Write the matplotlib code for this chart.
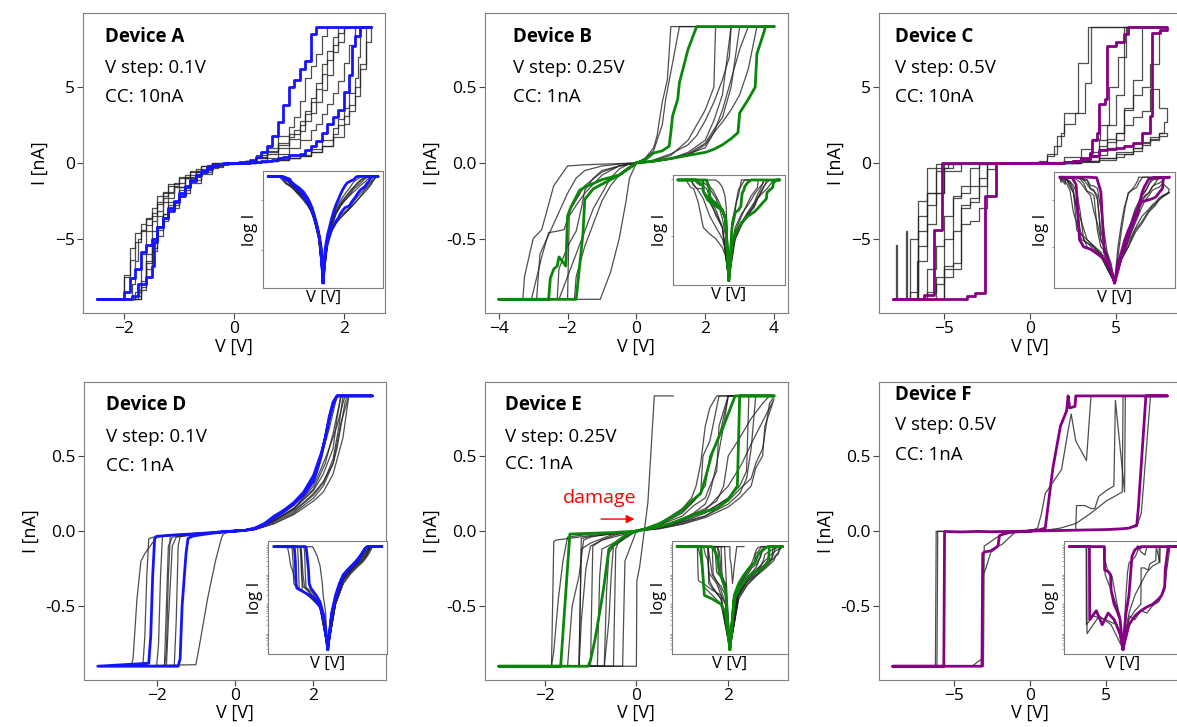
import numpy as np
import matplotlib
matplotlib.use('Agg')
import matplotlib.pyplot as plt
from matplotlib.ticker import MultipleLocator, FormatStrFormatter

plt.rcParams['font.family'] = ['Open Sans', 'DejaVu Sans']

# Each sweep: 0 -> +Vmax -> 0 -> -Vmax -> 0  (V in volts, I in nA)

# ---------------- Device A : V step 0.1V, CC 10nA ----------------
A_blue_V = [0, 0.1, 0.2, 0.3, 0.4, 0.5, 0.6, 0.7, 0.8, 0.9, 1.0, 1.1, 1.2, 1.3, 1.4, 1.5, 1.6, 1.7, 1.8, 1.9, 2.0, 2.1, 2.15, 2.2, 2.3, 2.5,
            2.3, 2.0, 1.7, 1.6, 1.5, 1.4, 1.3, 1.2, 1.1, 1.0, 0.9, 0.8, 0.7, 0.6, 0.5, 0.4, 0.3, 0.2, 0.1, 0,
            -0.1, -0.2, -0.3, -0.4, -0.5, -0.6, -0.7, -0.8, -0.9, -1.0, -1.1, -1.2, -1.3, -1.4, -1.5, -1.6, -1.7, -1.8, -1.9, -2.0, -2.5,
            -2.2, -1.9, -1.85, -1.75, -1.6, -1.5, -1.45, -1.4, -1.3, -1.2, -1.1, -1.0, -0.9, -0.8, -0.7, -0.6, -0.5, -0.4, -0.3, -0.2, -0.1, 0]
A_blue_I = [0.0005, 0.008, 0.02, 0.04, 0.07, 0.1, 0.15, 0.2, 0.3, 0.4, 0.5, 0.55, 0.6, 0.85, 1.1, 1.45, 2.0, 2.6, 3.0, 3.5, 4.7, 5.8, 7.7, 8.4, 9.0, 9.0,
            9.0, 9.0, 9.0, 9.0, 8.5, 6.7, 6.2, 5.5, 5.0, 3.8, 2.7, 1.8, 1.1, 0.7, 0.4, 0.2, 0.09, 0.04, 0.012, 0.0005,
            -0.015, -0.05, -0.12, -0.25, -0.5, -0.8, -1.2, -1.6, -2.2, -2.6, -3.2, -3.6, -4.2, -5.0, -5.4, -5.9, -7.0, -7.6, -8.5, -9.0, -9.0,
            -9.0, -9.0, -8.8, -8.0, -7.5, -6.8, -5.2, -4.2, -3.6, -3.0, -2.5, -2.0, -1.5, -1.1, -0.8, -0.6, -0.4, -0.2, -0.1, -0.04, -0.012, -0.0005]

A_k1_V = [0, 0.2, 0.4, 0.6, 0.8, 1.0, 1.2, 1.4, 1.6, 1.8, 1.9, 2.0, 2.1, 2.2, 2.25, 2.3, 2.5,
          2.0, 1.9, 1.8, 1.7, 1.6, 1.5, 1.4, 1.3, 1.2, 1.1, 1.0, 0.8, 0.6, 0.4, 0.2, 0,
          -0.2, -0.4, -0.5, -0.7, -0.9, -1.1, -1.3, -1.4, -1.5, -1.6, -1.7, -1.75, -1.8, -1.85, -2.5,
          -1.75, -1.7, -1.6, -1.5, -1.4, -1.3, -1.2, -1.1, -0.9, -0.7, -0.5, -0.3, -0.1, 0]
A_k1_I = [0.0005, 0.02, 0.08, 0.15, 0.25, 0.35, 0.5, 0.9, 1.5, 2.3, 2.9, 3.6, 4.6, 5.6, 7.0, 9.0, 9.0,
          9.0, 8.3, 7.4, 6.5, 5.3, 4.3, 3.4, 2.8, 2.2, 1.7, 1.3, 0.8, 0.4, 0.12, 0.03, 0.0005,
          -0.04, -0.2, -0.5, -1.0, -1.6, -2.3, -3.2, -3.8, -4.1, -4.5, -5.0, -6.5, -8.0, -9.0, -9.0,
          -9.0, -8.4, -6.0, -4.5, -3.5, -2.6, -2.0, -1.6, -1.0, -0.6, -0.3, -0.1, -0.01, -0.0005]

A_k2_V = [0, 0.2, 0.4, 0.6, 0.8, 1.0, 1.2, 1.4, 1.6, 1.8, 2.0, 2.1, 2.2, 2.3, 2.4, 2.5,
          2.2, 2.1, 2.0, 1.9, 1.8, 1.7, 1.6, 1.5, 1.4, 1.3, 1.2, 1.0, 0.8, 0.6, 0.4, 0.2, 0,
          -0.2, -0.4, -0.5, -0.7, -0.9, -1.1, -1.3, -1.4, -1.5, -1.6, -1.7, -1.8, -1.9, -2.0, -2.5,
          -1.9, -1.8, -1.7, -1.6, -1.5, -1.4, -1.3, -1.2, -1.0, -0.8, -0.6, -0.4, -0.2, 0]
A_k2_I = [0.0005, 0.02, 0.07, 0.13, 0.2, 0.3, 0.45, 0.7, 1.1, 1.7, 2.6, 3.4, 4.4, 6.5, 9.0, 9.0,
          9.0, 8.9, 8.0, 7.3, 5.8, 4.8, 4.0, 3.3, 2.8, 2.1, 1.6, 1.0, 0.6, 0.3, 0.1, 0.02, 0.0005,
          -0.03, -0.15, -0.4, -0.8, -1.3, -1.9, -2.7, -3.3, -3.7, -4.0, -4.6, -5.6, -7.5, -9.0, -9.0,
          -9.0, -8.5, -7.8, -6.6, -5.6, -4.4, -3.4, -2.8, -1.8, -1.1, -0.6, -0.2, -0.04, -0.0005]

A_k3_V = [0, 0.2, 0.4, 0.6, 0.8, 1.0, 1.2, 1.4, 1.5, 1.6, 1.7, 1.8, 1.9, 2.0, 2.1, 2.2, 2.5,
          1.8, 1.7, 1.6, 1.5, 1.4, 1.3, 1.2, 1.1, 1.0, 0.8, 0.6, 0.4, 0.2, 0,
          -0.2, -0.4, -0.6, -0.8, -1.0, -1.2, -1.3, -1.4, -1.5, -1.6, -1.7, -1.75, -2.5,
          -1.8, -1.7, -1.6, -1.5, -1.4, -1.3, -1.2, -1.0, -0.8, -0.6, -0.4, -0.2, 0]
A_k3_I = [0.0005, 0.02, 0.09, 0.3, 0.6, 1.0, 1.5, 2.2, 2.6, 3.2, 3.9, 4.6, 5.4, 6.6, 7.8, 9.0, 9.0,
          9.0, 8.4, 7.2, 6.4, 5.6, 4.1, 3.0, 2.4, 1.8, 1.0, 0.5, 0.15, 0.03, 0.0005,
          -0.04, -0.2, -0.6, -1.0, -1.5, -2.0, -2.6, -3.5, -4.5, -6.0, -8.4, -9.0, -9.0,
          -9.0, -8.2, -7.0, -5.8, -4.8, -3.8, -3.0, -2.0, -1.3, -0.7, -0.25, -0.05, -0.0005]

A_k4_V = [0, 0.2, 0.4, 0.6, 0.8, 1.0, 1.2, 1.4, 1.6, 1.8, 1.9, 2.0, 2.1, 2.2, 2.3, 2.4, 2.5,
          2.1, 2.0, 1.9, 1.8, 1.7, 1.6, 1.5, 1.4, 1.3, 1.2, 1.0, 0.8, 0.6, 0.4, 0.2, 0,
          -0.2, -0.4, -0.6, -0.8, -1.0, -1.2, -1.4, -1.5, -1.6, -1.7, -1.8, -1.9, -2.0, -2.5,
          -1.9, -1.8, -1.7, -1.6, -1.5, -1.4, -1.3, -1.2, -1.0, -0.8, -0.6, -0.4, -0.2, 0]
A_k4_I = [0.0005, 0.015, 0.06, 0.12, 0.2, 0.3, 0.45, 0.7, 1.1, 1.9, 2.5, 3.1, 3.8, 5.0, 6.2, 8.0, 9.0,
          9.0, 8.6, 7.8, 6.8, 5.9, 4.9, 4.0, 3.2, 2.5, 1.9, 1.2, 0.7, 0.35, 0.12, 0.025, 0.0005,
          -0.03, -0.18, -0.5, -0.9, -1.4, -2.2, -3.0, -3.6, -4.4, -5.2, -6.4, -7.4, -9.0, -9.0,
          -9.0, -8.8, -8.0, -6.5, -5.2, -4.2, -3.4, -2.6, -1.6, -0.9, -0.45, -0.15, -0.03, -0.0005]

# ---------------- Device B : V step 0.25V, CC 1nA ----------------
B_green_V = [0, 0.25, 0.5, 1.0, 1.5, 2.0, 2.25, 2.5, 2.75, 2.95, 3.0, 3.25, 3.45, 3.5, 3.7, 3.75, 4.0,
             1.75, 1.5, 1.25, 1.2, 1.05, 1.0, 0.95, 0.75, 0.5, 0.25, 0,
             -0.25, -0.5, -1.0, -1.5, -1.65, -1.9, -2.0, -2.05, -2.25, -2.3, -2.4, -2.5, -2.55, -4.0,
             -1.75, -1.65, -1.55, -1.5, -1.25, -1.0, -0.75, -0.5, -0.25, 0]
B_green_I = [0.0003, 0.005, 0.012, 0.03, 0.05, 0.07, 0.09, 0.12, 0.16, 0.2, 0.33, 0.42, 0.5, 0.72, 0.86, 0.9, 0.9,
             0.9, 0.75, 0.53, 0.42, 0.31, 0.2, 0.11, 0.08, 0.066, 0.02, 0.0003,
             -0.04, -0.08, -0.11, -0.16, -0.18, -0.29, -0.35, -0.68, -0.62, -0.68, -0.7, -0.76, -0.9, -0.9,
             -0.9, -0.68, -0.46, -0.24, -0.17, -0.14, -0.11, -0.08, -0.04, -0.0003]

B_k1_V = [0, 0.25, 0.5, 1.0, 1.5, 2.0, 2.25, 2.5, 2.75, 3.0, 3.25, 4.0,
          1.25, 1.0, 0.85, 0.75, 0.6, 0.5, 0.25, 0,
          -0.25, -0.5, -1.0, -1.5, -2.0, -2.4, -2.75, -3.0, -3.25, -3.3, -4.0,
          -3.05, -2.75, -2.55, -2.3, -2.1, -1.9, -1.5, -1.0, -0.5, 0]
B_k1_I = [0.0003, 0.004, 0.01, 0.03, 0.06, 0.1, 0.2, 0.35, 0.55, 0.75, 0.9, 0.9,
          0.9, 0.6, 0.42, 0.25, 0.15, 0.08, 0.03, 0.0003,
          -0.002, -0.004, -0.008, -0.012, -0.02, -0.15, -0.44, -0.5, -0.75, -0.9, -0.9,
          -0.9, -0.62, -0.46, -0.45, -0.44, -0.3, -0.15, -0.06, -0.02, -0.0003]

B_k2_V = [0, 0.25, 0.5, 1.0, 1.5, 2.0, 2.25, 2.5, 2.75, 3.0, 3.25, 3.5, 4.0,
          2.75, 2.7, 2.5, 2.25, 2.0, 1.75, 1.5, 1.0, 0.5, 0.25, 0,
          -0.25, -0.5, -0.75, -1.0, -1.25, -1.5, -1.75, -2.0, -2.25, -4.0,
          -1.8, -1.75, -1.5, -1.25, -1.0, -0.75, -0.5, -0.25, 0]
B_k2_I = [0.0003, 0.003, 0.008, 0.025, 0.05, 0.12, 0.2, 0.27, 0.35, 0.45, 0.62, 0.9, 0.9,
          0.9, 0.7, 0.55, 0.4, 0.28, 0.18, 0.12, 0.06, 0.02, 0.005, 0.0003,
          -0.01, -0.04, -0.1, -0.2, -0.3, -0.45, -0.6, -0.75, -0.9, -0.9,
          -0.9, -0.75, -0.55, -0.4, -0.25, -0.15, -0.08, -0.03, -0.0003]

B_k3_V = [0, 0.5, 1.0, 1.5, 2.0, 2.25, 2.5, 2.75, 4.0,
          2.3, 2.25, 2.0, 1.75, 1.5, 1.0, 0.5, 0,
          -0.5, -1.0, -1.25, -1.5, -1.6, -1.75, -2.0, -2.25, -2.3, -4.0,
          -1.05, -0.75, -0.5, -0.3, -0.2, 0]
B_k3_I = [0.0003, 0.01, 0.03, 0.07, 0.15, 0.28, 0.45, 0.9, 0.9,
          0.9, 0.5, 0.35, 0.25, 0.15, 0.05, 0.015, 0.0003,
          -0.02, -0.05, -0.1, -0.18, -0.3, -0.45, -0.55, -0.7, -0.9, -0.9,
          -0.9, -0.72, -0.5, -0.25, -0.1, -0.0003]

B_k4_V = [0, 0.5, 1.0, 1.5, 2.0, 2.25, 2.5, 2.75, 3.0, 4.0,
          1.0, 0.9, 0.75, 0.6, 0.5, 0.25, 0,
          -0.25, -0.5, -1.0, -1.5, -1.75, -2.0, -2.5, -2.8, -2.9, -4.0,
          -2.0, -1.95, -1.75, -1.5, -1.0, -0.5, 0]
B_k4_I = [0.0003, 0.008, 0.025, 0.06, 0.13, 0.22, 0.3, 0.5, 0.9, 0.9,
          0.9, 0.55, 0.4, 0.18, 0.1, 0.03, 0.0003,
          -0.003, -0.008, -0.02, -0.05, -0.1, -0.2, -0.45, -0.6, -0.9, -0.9,
          -0.9, -0.35, -0.28, -0.2, -0.08, -0.02, -0.0003]

# ---------------- Device C : V step 0.5V, CC 10nA ----------------
C_purple_V = [0, 0.5, 1, 1.5, 2, 2.5, 3, 3.5, 4, 4.5, 5, 5.5, 6, 6.5, 7.0, 7.1, 7.6, 8,
              8, 5.7, 5.5, 5.0, 4.5, 4.4, 4.0, 3.9, 3.6, 3.5, 3.0, 2.5, 2.0, 1.5, 1.0, 0.5, 0,
              -0.5, -1, -1.5, -2.0, -2.6, -3.2, -3.65, -8,
              -6.2, -5.6, -5.1, -4.5, -3.5, -2.5, -1.5, -0.5, 0]
C_purple_I = [0.0003, 0.002, 0.006, 0.02, 0.05, 0.1, 0.25, 0.45, 0.85, 0.9, 1.0, 1.1, 1.3, 2.0, 3.1, 8.6, 8.8, 9.0,
              9.0, 8.5, 8.0, 7.7, 4.2, 3.9, 2.0, 1.5, 0.65, 0.35, 0.15, 0.07, 0.03, 0.01, 0.004, 0.001, 0.0003,
              -0.001, -0.003, -0.006, -2.2, -8.6, -8.8, -9.0, -9.0,
              -8.7, -4.4, -0.02, -0.01, -0.008, -0.005, -0.003, -0.001, -0.0003]

C_k1_V = [0, 0.5, 1, 1.5, 2, 2.5, 3, 3.5, 4, 4.5, 5, 5.5, 6, 6.5, 7, 7.5, 8,
          4.1, 3.55, 3.2, 2.6, 2.0, 1.8, 1.4, 1.0, 0.5, 0,
          -0.5, -1, -2, -2.5, -3, -3.5, -4, -4.5, -5, -5.5, -6, -8,
          -6.6, -6.0, -5.5, -5.0, -4.5, -3.0, -1.5, 0]
C_k1_I = [0.0003, 0.002, 0.005, 0.01, 0.03, 0.08, 0.2, 0.5, 1.1, 1.6, 2.0, 3.6, 4.5, 5.0, 6.5, 8.8, 9.0,
          9.0, 5.3, 3.3, 2.6, 2.0, 1.1, 0.44, 0.1, 0.01, 0.0003,
          -0.002, -0.005, -0.01, -0.05, -1.5, -2.0, -2.3, -5.0, -7.5, -8.5, -9.0, -9.0,
          -6.5, -4.0, -2.0, -0.3, -0.02, -0.008, -0.004, -0.0003]

C_k2_V = [0, 1, 2, 3, 4, 5, 5.5, 6, 6.5, 7, 7.5, 8,
          7.5, 7.0, 6.5, 6.0, 5.0, 4.0, 3.0, 2.0, 1.0, 0,
          -1, -2, -2.5, -3, -3.5, -4, -4.5, -5, -8,
          -7.8, -7.75, -7.0, -6.5, -6.0, -5.0, -4.0, -2.0, 0]
C_k2_I = [0.0003, 0.003, 0.015, 0.06, 0.2, 0.4, 0.6, 0.8, 1.2, 1.5, 1.8, 2.0,
          1.6, 1.3, 1.0, 0.7, 0.35, 0.12, 0.05, 0.01, 0.003, 0.0003,
          -0.004, -0.4, -3.0, -3.8, -4.0, -7.0, -7.5, -9.0, -9.0,
          -5.4, -9.0, -8.5, -4.5, -2.0, -0.05, -0.01, -0.004, -0.0003]

C_k3_V = [0, 1, 2, 3, 4, 4.5, 5, 5.5, 6, 6.5, 7, 7.5, 8,
          7.8, 7.5, 7.0, 6.5, 6.0, 5.0, 4.0, 3.0, 2.0, 1.0, 0,
          -1, -1.5, -2, -2.5, -3, -3.5, -4, -4.5, -5, -8,
          -7.2, -7.15, -6.5, -6.0, -5.5, -4.0, -2.0, 0]
C_k3_I = [0.0003, 0.004, 0.02, 0.1, 0.5, 1.0, 1.5, 2.5, 3.0, 3.4, 4.9, 3.6, 2.7,
          2.0, 1.7, 1.4, 1.0, 0.6, 0.3, 0.1, 0.04, 0.01, 0.003, 0.0003,
          -0.003, -0.01, -0.02, -1.5, -2.3, -2.8, -4.5, -6.8, -9.0, -9.0,
          -4.5, -9.0, -3.5, -2.0, -0.5, -0.02, -0.005, -0.0003]

C_k4_V = [0, 1, 2, 3, 3.5, 4, 4.5, 5, 5.5, 6, 6.5, 8,
          5.6, 5.1, 4.6, 4.1, 3.6, 3.0, 2.0, 1.0, 0,
          -1, -2, -2.5, -3, -3.5, -4, -4.5, -5, -5.5, -8,
          -7.0, -6.5, -6.0, -4.8, -3.0, -2.0, 0]
C_k4_I = [0.0003, 0.003, 0.02, 0.15, 0.4, 0.9, 1.4, 2.0, 3.5, 5.5, 9.0, 9.0,
          7.0, 5.0, 2.5, 1.6, 0.9, 0.4, 0.05, 0.004, 0.0003,
          -0.003, -0.05, -1.0, -2.6, -3.0, -6.6, -7.0, -8.0, -9.0, -9.0,
          -5.0, -2.5, -0.3, -0.02, -0.01, -0.004, -0.0003]

C_k5_V = [0, 1, 2, 3, 3.5, 4, 4.5, 5, 5.5, 8,
          3.5, 3.4, 2.8, 2.0, 1.6, 1.0, 0,
          -1, -2, -2.5, -3, -3.5, -4, -4.5, -5, -5.5, -6, -8,
          -6.5, -6.0, -5.5, -4.0, -2.0, 0]
C_k5_I = [0.0003, 0.004, 0.04, 0.3, 0.7, 1.5, 2.5, 4.5, 9.0, 9.0,
          9.0, 6.6, 3.3, 1.8, 0.6, 0.05, 0.0003,
          -0.004, -0.02, -0.1, -0.3, -1.5, -2.2, -3.5, -5.5, -7.0, -9.0, -9.0,
          -5.5, -2.8, -0.05, -0.02, -0.006, -0.0003]

# ---------------- Device D : V step 0.1V, CC 1nA ----------------
D_blue_V = [0, 0.25, 0.5, 0.75, 1.0, 1.25, 1.5, 1.75, 2.0, 2.1, 2.2, 2.3, 2.4, 2.5, 2.6, 3.5,
            2.6, 2.5, 2.4, 2.3, 2.2, 2.0, 1.75, 1.5, 1.25, 1.0, 0.75, 0.5, 0.25, 0,
            -0.25, -0.5, -0.75, -1.0, -1.5, -2.0, -2.05, -2.1, -2.15, -2.2, -3.5,
            -1.45, -1.4, -1.35, -1.25, -1.2, -1.1, -1.0, -0.75, -0.5, -0.25, 0]
D_blue_I = [0.0003, 0.004, 0.015, 0.04, 0.09, 0.13, 0.18, 0.24, 0.33, 0.41, 0.5, 0.62, 0.76, 0.86, 0.9, 0.9,
            0.9, 0.84, 0.74, 0.62, 0.52, 0.37, 0.26, 0.19, 0.14, 0.1, 0.05, 0.02, 0.005, 0.0003,
            -0.003, -0.008, -0.013, -0.018, -0.025, -0.035, -0.05, -0.3, -0.7, -0.88, -0.9,
            -0.9, -0.85, -0.5, -0.15, -0.05, -0.035, -0.03, -0.02, -0.012, -0.004, -0.0003]

D_k1_V = [0, 0.5, 1.0, 1.5, 1.75, 2.0, 2.25, 2.5, 2.6, 2.7, 2.8, 2.85, 3.5,
          2.8, 2.6, 2.4, 2.2, 2.0, 1.5, 1.0, 0.5, 0,
          -0.5, -1.0, -1.5, -2.0, -2.3, -2.4, -2.5, -2.6, -2.65, -3.5,
          -1.75, -1.7, -1.6, -1.5, -1.0, -0.5, 0]
D_k1_I = [0.0003, 0.012, 0.07, 0.14, 0.19, 0.25, 0.33, 0.45, 0.55, 0.7, 0.85, 0.9, 0.9,
          0.9, 0.7, 0.55, 0.42, 0.3, 0.15, 0.07, 0.012, 0.0003,
          -0.008, -0.015, -0.025, -0.04, -0.15, -0.2, -0.45, -0.85, -0.9, -0.9,
          -0.9, -0.6, -0.1, -0.04, -0.025, -0.01, -0.0003]

D_k2_V = [0, 0.5, 1.0, 1.5, 2.0, 2.25, 2.5, 2.65, 2.75, 3.5,
          2.7, 2.5, 2.3, 2.0, 1.5, 1.0, 0.5, 0,
          -0.5, -1.0, -1.5, -2.0, -2.2, -2.25, -2.3, -2.35, -3.5,
          -1.8, -1.75, -1.7, -1.6, -1.0, -0.5, 0]
D_k2_I = [0.0003, 0.01, 0.06, 0.13, 0.24, 0.32, 0.48, 0.7, 0.9, 0.9,
          0.9, 0.65, 0.45, 0.28, 0.15, 0.07, 0.012, 0.0003,
          -0.008, -0.015, -0.025, -0.035, -0.05, -0.3, -0.7, -0.9, -0.9,
          -0.9, -0.5, -0.1, -0.04, -0.02, -0.01, -0.0003]

D_k3_V = [0, 0.5, 1.0, 1.5, 2.0, 2.25, 2.5, 2.75, 2.9, 3.5,
          2.9, 2.7, 2.5, 2.25, 2.0, 1.5, 1.0, 0.5, 0,
          -0.5, -1.0, -1.5, -1.85, -1.9, -1.95, -2.0, -3.5,
          -1.0, -0.9, -0.7, -0.5, -0.35, -0.3, -0.15, 0]
D_k3_I = [0.0003, 0.01, 0.05, 0.11, 0.2, 0.26, 0.38, 0.62, 0.9, 0.9,
          0.9, 0.72, 0.45, 0.3, 0.22, 0.12, 0.05, 0.01, 0.0003,
          -0.008, -0.015, -0.025, -0.03, -0.3, -0.75, -0.9, -0.9,
          -0.89, -0.75, -0.45, -0.2, -0.05, -0.02, -0.006, -0.0003]

D_k4_V = [0, 0.5, 1.0, 1.5, 2.0, 2.25, 2.5, 2.6, 2.7, 3.5,
          2.6, 2.4, 2.2, 2.0, 1.5, 1.0, 0.5, 0,
          -0.5, -1.0, -1.5, -1.65, -1.7, -1.75, -1.8, -3.5,
          -1.55, -1.5, -1.45, -1.4, -1.0, -0.5, 0]
D_k4_I = [0.0003, 0.012, 0.07, 0.15, 0.27, 0.38, 0.55, 0.75, 0.9, 0.9,
          0.9, 0.68, 0.5, 0.35, 0.17, 0.08, 0.014, 0.0003,
          -0.008, -0.015, -0.025, -0.03, -0.3, -0.8, -0.9, -0.9,
          -0.9, -0.6, -0.1, -0.035, -0.02, -0.01, -0.0003]

# ---------------- Device E : V step 0.25V, CC 1nA ----------------
E_green_V = [0, 0.25, 0.5, 0.75, 1.0, 1.25, 1.5, 1.75, 2.0, 2.2, 2.25, 3.0,
             2.15, 2.0, 1.9, 1.8, 1.65, 1.5, 1.4, 1.2, 1.0, 0.75, 0.5, 0.25, 0,
             -0.25, -0.5, -0.6, -0.7, -0.75, -0.9, -1.0, -1.05, -3.0,
             -1.65, -1.45, -1.0, -0.5, -0.25, 0]
E_green_I = [0.0003, 0.015, 0.03, 0.05, 0.08, 0.11, 0.13, 0.15, 0.21, 0.3, 0.9, 0.9,
             0.9, 0.78, 0.7, 0.63, 0.52, 0.35, 0.25, 0.2, 0.14, 0.09, 0.05, 0.02, 0.0003,
             -0.03, -0.09, -0.12, -0.35, -0.45, -0.72, -0.86, -0.9, -0.9,
             -0.9, -0.02, -0.015, -0.01, -0.005, -0.0003]

E_damage_V = [0.8, 0.39, 0.25, 0.15, 0.07, 0.01, 0.0, -3.0]
E_damage_I = [0.9, 0.9, 0.19, -0.05, -0.24, -0.33, -0.9, -0.9]

E_k1_V = [0, 0.25, 0.5, 1.0, 1.5, 1.75, 2.0, 2.25, 2.4, 2.45, 3.0,
          1.8, 1.6, 1.45, 1.4, 1.25, 1.0, 0.5, 0.25, 0,
          -0.25, -0.5, -1.0, -1.5, -1.75, -1.8, -1.85, -3.0,
          -1.25, -1.2, -1.0, -0.5, 0]
E_k1_I = [0.0003, 0.01, 0.025, 0.06, 0.12, 0.17, 0.22, 0.3, 0.4, 0.9, 0.9,
          0.9, 0.6, 0.5, 0.25, 0.2, 0.13, 0.05, 0.015, 0.0003,
          -0.01, -0.02, -0.03, -0.05, -0.06, -0.07, -0.9, -0.9,
          -0.9, -0.05, -0.035, -0.015, -0.0003]

E_k2_V = [0, 0.5, 1.0, 1.5, 2.0, 2.25, 2.5, 2.6, 2.75, 2.9, 3.0,
          2.9, 2.75, 2.5, 2.25, 2.0, 1.9, 1.75, 1.5, 1.0, 0.5, 0,
          -0.25, -0.5, -0.75, -1.0, -1.1, -1.2, -1.25, -3.0,
          -0.85, -0.8, -0.75, -0.5, -0.25, 0]
E_k2_I = [0.0003, 0.02, 0.06, 0.1, 0.2, 0.28, 0.35, 0.45, 0.55, 0.85, 0.9,
          0.9, 0.85, 0.75, 0.62, 0.5, 0.3, 0.2, 0.15, 0.08, 0.03, 0.0003,
          -0.01, -0.03, -0.06, -0.1, -0.25, -0.6, -0.9, -0.9,
          -0.9, -0.3, -0.12, -0.08, -0.03, -0.0003]

E_k3_V = [0, 0.5, 1.0, 1.5, 2.0, 2.25, 2.4, 2.5, 2.6, 3.0,
          2.0, 1.8, 1.6, 1.5, 1.25, 1.0, 0.5, 0,
          -0.25, -0.5, -0.75, -0.95, -1.0, -3.0,
          -0.5, -0.45, -0.4, -0.25, 0]
E_k3_I = [0.0003, 0.018, 0.05, 0.1, 0.18, 0.25, 0.35, 0.55, 0.9, 0.9,
          0.9, 0.62, 0.5, 0.3, 0.2, 0.12, 0.04, 0.0003,
          -0.02, -0.04, -0.06, -0.1, -0.9, -0.9,
          -0.9, -0.12, -0.08, -0.04, -0.0003]

E_k4_V = [0, 0.5, 1.0, 1.25, 1.5, 1.6, 1.75, 1.9, 2.0, 3.0,
          1.75, 1.6, 1.5, 1.4, 1.3, 1.2, 1.0, 0.5, 0,
          -0.5, -1.0, -1.5, -1.6, -1.7, -1.8, -1.85, -3.0,
          -0.7, -0.65, -0.6, -0.5, -0.25, 0]
E_k4_I = [0.0003, 0.025, 0.08, 0.12, 0.18, 0.25, 0.45, 0.7, 0.9, 0.9,
          0.9, 0.82, 0.7, 0.45, 0.3, 0.22, 0.15, 0.05, 0.0003,
          -0.01, -0.02, -0.04, -0.2, -0.45, -0.8, -0.9, -0.9,
          -0.9, -0.4, -0.15, -0.1, -0.04, -0.0003]

E_k5_V = [0, 0.5, 1.0, 1.5, 1.75, 2.0, 2.2, 2.25, 3.0,
          2.0, 1.8, 1.75, 1.6, 1.5, 1.25, 1.0, 0.5, 0,
          -0.5, -1.0, -1.15, -1.25, -1.4, -1.5, -3.0,
          -0.7, -0.6, -0.55, -0.5, -0.25, 0]
E_k5_I = [0.0003, 0.02, 0.07, 0.13, 0.17, 0.22, 0.3, 0.9, 0.9,
          0.9, 0.7, 0.4, 0.3, 0.22, 0.17, 0.1, 0.04, 0.0003,
          -0.015, -0.04, -0.06, -0.3, -0.5, -0.9, -0.9,
          -0.9, -0.6, -0.3, -0.1, -0.05, -0.0003]

E_k6_V = [0, 0.5, 1.0, 1.5, 2.0, 2.25, 2.5, 2.6, 2.75, 2.8, 3.0,
          2.9, 2.7, 2.5, 2.3, 2.0, 1.5, 1.0, 0.5, 0,
          -0.5, -0.75, -1.0, -1.2, -1.25, -3.0,
          -0.3, -0.25, 0]
E_k6_I = [0.0003, 0.015, 0.045, 0.09, 0.16, 0.22, 0.3, 0.42, 0.5, 0.7, 0.88,
          0.82, 0.7, 0.58, 0.45, 0.3, 0.14, 0.07, 0.025, 0.0003,
          -0.02, -0.05, -0.08, -0.12, -0.9, -0.9,
          -0.9, -0.2, -0.0003]

# ---------------- Device F : V step 0.5V, CC 1nA ----------------
F_purple_V = [0, 1, 2, 3, 4, 5, 6, 6.5, 7.0, 7.1, 7.6, 9,
              3.0, 2.95, 2.6, 2.5, 2.4, 2.0, 1.5, 1.0, 0.5, 0,
              -0.5, -1.0, -1.5, -2.0, -2.1, -2.5, -3.0, -3.1, -3.15, -9,
              -5.65, -5.6, -4.5, -3.5, -2.5, -1.5, -0.5, 0]
F_purple_I = [0.0003, 0.002, 0.004, 0.006, 0.008, 0.01, 0.015, 0.02, 0.04, 0.15, 0.9, 0.9,
              0.9, 0.83, 0.82, 0.9, 0.8, 0.7, 0.42, 0.02, 0.005, 0.0003,
              -0.003, -0.006, -0.01, -0.03, -0.1, -0.13, -0.14, -0.15, -0.9, -0.9,
              -0.9, -0.003, -0.006, -0.002, -0.005, -0.003, -0.001, -0.0003]

F_k1_V = [0, 1, 2, 3, 3.05, 3.6, 4.0, 4.25, 4.5, 5.0, 5.5, 5.6, 6.2, 6.25, 9,
          4.0, 3.7, 3.0, 2.7, 2.5, 2.07, 1.0, 0.76, 0.5, 0,
          -0.5, -1.0, -1.85, -2.5, -2.9, -3.1, -3.15, -3.8, -9,
          -6.2, -6.15, -5.0, -3.0, -1.0, 0]
F_k1_I = [0.0003, 0.003, 0.006, 0.01, 0.17, 0.17, 0.15, 0.15, 0.23, 0.27, 0.3, 0.87, 0.26, 0.9, 0.9,
          0.9, 0.47, 0.6, 0.78, 0.67, 0.41, 0.25, 0.12, 0.02, 0.0003,
          -0.003, -0.01, -0.09, -0.12, -0.25, -0.3, -0.85, -0.9, -0.9,
          -0.9, -0.002, -0.004, -0.003, -0.002, -0.0003]

F_k2_V = [0, 1, 2, 3, 4, 5, 6, 7.0, 7.3, 7.9, 9,
          6.1, 6.05, 5.0, 4.0, 3.0, 2.0, 1.0, 0,
          -0.5, -1.0, -2.0, -3.0, -3.05, -9,
          -6.1, -6.05, -4.0, -2.0, 0]
F_k2_I = [0.0003, 0.004, 0.003, 0.006, 0.005, 0.009, 0.012, 0.03, 0.12, 0.9, 0.9,
          0.9, 0.26, 0.2, 0.12, 0.05, 0.02, 0.005, 0.0003,
          -0.004, -0.008, -0.03, -0.1, -0.9, -0.9,
          -0.9, -0.001, -0.004, -0.002, -0.0003]

BLUE = '#1414ff'
GREEN = '#0a870a'
PURPLE = '#850085'
GREY = '#7f7f7f'

panels = [
    dict(title='Device A', step='V step: 0.1V', cc='CC: 10nA', color=BLUE, ds='steps-post',
         hl=[(A_blue_V, A_blue_I)],
         bk=[(A_k1_V, A_k1_I), (A_k2_V, A_k2_I), (A_k3_V, A_k3_I), (A_k4_V, A_k4_I)],
         rect=[0.0705, 0.5695, 0.2566, 0.4127], xt=2, yt=5, txt=(0.073, [0.92, 0.817, 0.72]),
         inset=[0.595, 0.083, 0.40, 0.39]),
    dict(title='Device B', step='V step: 0.25V', cc='CC: 1nA', color=GREEN, ds='default',
         hl=[(B_green_V, B_green_I)],
         bk=[(B_k1_V, B_k1_I), (B_k2_V, B_k2_I), (B_k3_V, B_k3_I), (B_k4_V, B_k4_I)],
         rect=[0.412, 0.5695, 0.2574, 0.4127], xt=2, yt=0.5, txt=(0.092, [0.92, 0.817, 0.72]),
         inset=[0.62, 0.093, 0.37, 0.367]),
    dict(title='Device C', step='V step: 0.5V', cc='CC: 10nA', color=PURPLE, ds='steps-post',
         hl=[(C_purple_V, C_purple_I)],
         bk=[(C_k1_V, C_k1_I), (C_k2_V, C_k2_I), (C_k3_V, C_k3_I), (C_k4_V, C_k4_I), (C_k5_V, C_k5_I)],
         rect=[0.7468, 0.5695, 0.2566, 0.4127], xt=5, yt=5, txt=(0.053, [0.92, 0.817, 0.72]),
         inset=[0.58, 0.083, 0.40, 0.387]),
    dict(title='Device D', step='V step: 0.1V', cc='CC: 1nA', color=BLUE, ds='default',
         hl=[(D_blue_V, D_blue_I)],
         bk=[(D_k1_V, D_k1_I), (D_k2_V, D_k2_I), (D_k3_V, D_k3_I), (D_k4_V, D_k4_I)],
         rect=[0.0714, 0.065, 0.2566, 0.409], xt=2, yt=0.5, txt=(0.073, [0.924, 0.817, 0.72]),
         inset=[0.61, 0.086, 0.394, 0.379]),
    dict(title='Device E', step='V step: 0.25V', cc='CC: 1nA', color=GREEN, ds='default',
         hl=[(E_green_V, E_green_I)],
         bk=[(E_k1_V, E_k1_I), (E_k2_V, E_k2_I), (E_k3_V, E_k3_I), (E_k4_V, E_k4_I),
             (E_k5_V, E_k5_I), (E_k6_V, E_k6_I), (E_damage_V, E_damage_I)],
         rect=[0.412, 0.065, 0.2574, 0.409], xt=2, yt=0.5, txt=(0.066, [0.924, 0.817, 0.724]),
         inset=[0.617, 0.086, 0.383, 0.379]),
    dict(title='Device F', step='V step: 0.5V', cc='CC: 1nA', color=PURPLE, ds='default',
         hl=[(F_purple_V, F_purple_I)],
         bk=[(F_k1_V, F_k1_I), (F_k2_V, F_k2_I)],
         rect=[0.7468, 0.065, 0.2566, 0.409], xt=5, yt=0.5, txt=(0.053, [0.957, 0.857, 0.757]),
         inset=[0.613, 0.086, 0.39, 0.379]),
]

fig = plt.figure(figsize=(11.77, 7.27), dpi=100)

for n, p in enumerate(panels):
    ax = fig.add_axes(p['rect'])
    ins = ax.inset_axes(p['inset'])
    # main plot keeps the measured staircase, the inset log view uses plain lines
    for target, use_log, ds in [(ax, False, p['ds']), (ins, True, 'default')]:
        for v, i in p['bk']:
            y = np.abs(i) if use_log else i
            target.plot(v, y, color='#222222', lw=0.9, alpha=0.8, drawstyle=ds, zorder=2)
        for v, i in p['hl']:
            y = np.abs(i) if use_log else i
            target.plot(v, y, color=p['color'], lw=2.0, drawstyle=ds, zorder=3)

    ax.xaxis.set_major_locator(MultipleLocator(p['xt']))
    ax.yaxis.set_major_locator(MultipleLocator(p['yt']))
    if p['yt'] < 1:
        ax.yaxis.set_major_formatter(FormatStrFormatter('%.1f'))
    ax.tick_params(labelsize=12.5, length=4, pad=2, color='#444444')
    for s in ax.spines.values():
        s.set_color(GREY)
    ax.set_xlabel('V [V]', fontsize=13, labelpad=0)
    ax.set_ylabel('I [nA]', fontsize=13, labelpad=4)

    tx, tys = p['txt']
    ax.text(tx, tys[0], p['title'], transform=ax.transAxes, fontsize=13.5, fontweight='bold', va='center')
    ax.text(tx, tys[1], p['step'], transform=ax.transAxes, fontsize=13.5, va='center')
    ax.text(tx, tys[2], p['cc'], transform=ax.transAxes, fontsize=13.5, va='center')

    ins.set_yscale('log')
    ins.set_xticks([])
    ins.tick_params(axis='y', which='both', length=1.5, labelleft=False, color='#999999')
    for s in ins.spines.values():
        s.set_color(GREY)
    ins.set_xlabel('V [V]', fontsize=12, labelpad=1)
    ins.set_ylabel('log I', fontsize=12, labelpad=2)

    if p['title'] == 'Device E':
        ax.annotate('', xy=(0.02, 0.08), xytext=(-0.83, 0.08),
                    arrowprops=dict(arrowstyle='-|>', color='red', lw=1.0, mutation_scale=12))
        ax.text(-0.8, 0.22, 'damage', color='red', fontsize=14, ha='center', va='center')

fig.savefig('out.png', dpi=100)
